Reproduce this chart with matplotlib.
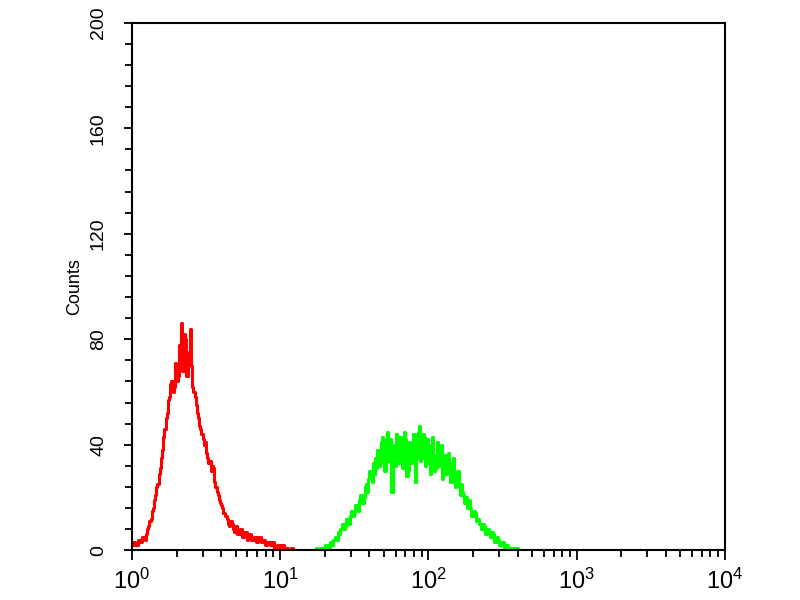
#Flow cytometry histogram: red (control) and green (stained) counts vs. log intensity
import numpy as np
from matplotlib import pyplot as plt
from matplotlib.ticker import MultipleLocator, LogLocator, NullFormatter

plt.rcParams['font.family'] = ['Liberation Sans', 'DejaVu Sans']
plt.rcParams['mathtext.fontset'] = 'custom'
plt.rcParams['mathtext.rm'] = 'Liberation Sans'

#============================================================================================================#
#Data: channel number (256 channels per decade) and counts
red_start = 0
red_step = 2
red_counts = [2, 3, 3, 2, 2, 4, 4, 3, 3, 5, 5, 4, 6, 8, 9, 11, 12, 15, 16, 19,
              21, 24, 25, 29, 31, 35, 38, 43, 46, 50, 52, 57, 58, 63, 64, 60, 62, 71, 70, 64,
              66, 78, 86, 68, 68, 82, 80, 66, 72, 75, 84, 70, 62, 60, 58, 55, 52, 50, 47, 46,
              44, 42, 40, 41, 37, 35, 33, 34, 30, 32, 31, 26, 24, 22, 21, 19, 18, 17, 16, 14,
              13, 13, 12, 10, 9, 11, 10, 8, 7, 9, 9, 6, 6, 8, 8, 5, 5, 7, 7, 4,
              5, 6, 6, 4, 4, 5, 5, 3, 3, 5, 5, 3, 3, 4, 4, 2, 2, 3, 3, 2,
              2, 3, 3, 1, 1, 2, 2, 1, 1, 2, 2, 1, 1, 1, 1, 0, 0, 1, 1, 0, 0]

green_start = 300
green_step = 2
green_counts = [0, 0, 0, 0, 0, 0, 0, 0, 0, 1, 0, 0, 1, 0, 1, 1,
                1, 2, 2, 1, 1, 3, 3, 2, 4, 5, 5, 4, 7, 6, 8, 10, 10, 8, 9, 12,
                12, 10, 13, 15, 15, 13, 14, 17, 17, 15, 19, 21, 21, 18, 20, 24, 25, 22, 27, 30,
                30, 26, 33, 29, 35, 31, 38, 32, 34, 41, 43, 33, 30, 42, 45, 34, 36, 42, 22, 38,
                40, 32, 44, 35, 33, 43, 41, 31, 36, 45, 42, 28, 30, 41, 40, 33, 37, 44, 26, 35,
                41, 45, 47, 34, 35, 44, 43, 32, 38, 42, 33, 29, 40, 43, 36, 30, 31, 41, 39, 32,
                37, 40, 27, 33, 36, 29, 34, 37, 30, 26, 33, 35, 28, 24, 27, 30, 24, 21, 25, 22,
                21, 18, 20, 16, 17, 19, 16, 13, 13, 15, 14, 11, 11, 12, 10, 8, 8, 10, 9, 6,
                6, 8, 7, 5, 5, 7, 6, 3, 3, 5, 4, 2, 2, 3, 3, 1, 1, 2, 2, 1,
                1, 0, 1, 1, 0, 0, 1, 0, 0, 0]

y_ticks = [0, 40, 80, 120, 160, 200]
x_decades = [0, 1, 2, 3, 4]
#============================================================================================================#
red_ch = red_start + red_step * np.arange(len(red_counts))
green_ch = green_start + green_step * np.arange(len(green_counts))

fig = plt.figure(figsize=(8, 6), dpi=100)
ax = fig.add_axes([0.165, 0.083, 0.741, 0.879])

ax.step(10 ** (red_ch / 256), red_counts, where='post', c='#ff0000', lw=2.2)
ax.step(10 ** (green_ch / 256), green_counts, where='post', c='#00ff00', lw=2.2)

ax.set_xscale('log')
ax.set_xlim(1, 1e4)
ax.set_ylim(0, 200)

ax.set_yticks(y_ticks)
ax.set_yticklabels([str(v) for v in y_ticks], rotation=90, va='center', fontsize=14)
ax.yaxis.set_minor_locator(MultipleLocator(8))

ax.set_xticks([10 ** d for d in x_decades])
ax.set_xticklabels([r'$\mathregular{10^{%d}}$' % d for d in x_decades], fontsize=17)
ax.xaxis.set_minor_locator(LogLocator(base=10, subs=np.arange(2, 10)))
ax.xaxis.set_minor_formatter(NullFormatter())

ax.tick_params(axis='y', which='major', direction='out', length=6, width=1.3, pad=12)
ax.tick_params(axis='y', which='minor', direction='out', length=5, width=1.3)
ax.tick_params(axis='x', which='major', direction='out', length=7, width=1.3, pad=6)
ax.tick_params(axis='x', which='minor', direction='out', length=5, width=1.3)

for s in ax.spines.values():
    s.set_linewidth(1.5)

ax.set_ylabel('Counts', fontsize=13, labelpad=5)

plt.savefig('out.png', dpi=100)
